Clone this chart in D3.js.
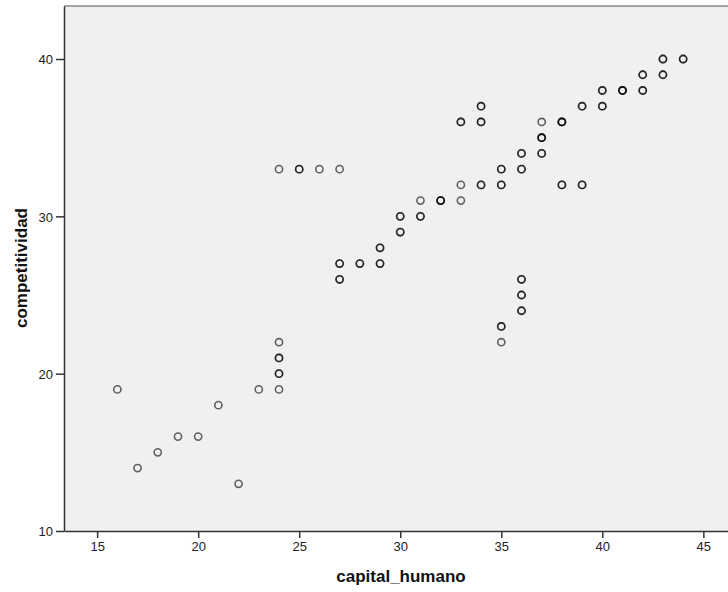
<!DOCTYPE html>
<html>
<head>
<meta charset="utf-8">
<script src="https://cdn.jsdelivr.net/npm/d3@7"></script>
<style>
  html, body { margin: 0; padding: 0; background: #fff; }
  svg { display: block; font-family: "Liberation Sans", Arial, sans-serif; }
</style>
</head>
<body>
<div id="svgContainer"></div>
<script>
// Data (overlap = how many cases share the point)
const capital_humano = [16, 17, 18, 19, 20, 21, 22, 23, 24, 24, 24, 24,
  24, 25, 26, 27, 27, 27, 28, 29, 29, 30, 30, 31, 31, 32, 33, 33, 33,
  34, 34, 34, 35, 35, 36, 36, 37, 37, 37, 38, 38, 39, 39, 40, 40, 41,
  42, 42, 43, 43, 44, 35, 35, 36, 36, 36];
const competitividad = [19, 14, 15, 16, 16, 18, 13, 19, 19, 20, 21, 22,
  33, 33, 33, 33, 27, 26, 27, 27, 28, 29, 30, 30, 31, 31, 31, 32, 36,
  36, 37, 32, 32, 33, 33, 34, 34, 35, 36, 36, 32, 32, 37, 37, 38, 38,
  38, 39, 39, 40, 40, 23, 22, 26, 25, 24];
const overlap = [1, 1, 1, 1, 1, 1, 1, 1, 1, 2, 2, 1,
  1, 2, 1, 1, 2, 2, 2, 2, 2, 2, 2, 2, 1, 3, 1, 1, 2,
  2, 2, 2, 2, 2, 2, 2, 2, 3, 1, 3, 2, 2, 2, 2, 2, 3,
  2, 2, 2, 2, 2, 2, 1, 2, 2, 2];
const xTicks = [15, 20, 25, 30, 35, 40, 45];
const yTicks = [10, 20, 30, 40];

const width = 728;
const height = 592;
const plot = { left: 64, top: 6, right: 728, bottom: 531 };

const svg = d3.select("#svgContainer").append("svg")
  .attr("width", width)
  .attr("height", height);

const x = d3.scaleLinear().domain([13.36, 46.22]).range([plot.left, plot.right]);
const y = d3.scaleLinear().domain([10, 43.37]).range([plot.bottom, plot.top]);

// Plot background
svg.append("rect")
  .attr("x", plot.left)
  .attr("y", plot.top)
  .attr("width", plot.right - plot.left)
  .attr("height", plot.bottom - plot.top)
  .attr("fill", "#f0f0f0");

// Top border
svg.append("line")
  .attr("x1", plot.left).attr("x2", plot.right)
  .attr("y1", plot.top).attr("y2", plot.top)
  .attr("stroke", "#8a8a8a")
  .attr("stroke-width", 1.5);

// Points, one circle per case so overlaps look darker
const cases = [];
for (let i = 0; i < capital_humano.length; i++) {
  for (let k = 0; k < overlap[i]; k++) {
    cases.push({ x: capital_humano[i], y: competitividad[i] });
  }
}
svg.append("g")
  .selectAll("circle")
  .data(cases)
  .join("circle")
  .attr("cx", d => x(d.x))
  .attr("cy", d => y(d.y))
  .attr("r", 3.6)
  .attr("fill", "none")
  .attr("stroke", "#000")
  .attr("stroke-width", 1.6)
  .attr("stroke-opacity", 0.6);

// Axes
const xAxis = svg.append("g")
  .attr("transform", `translate(0, ${plot.bottom})`)
  .call(d3.axisBottom(x).tickValues(xTicks).tickSize(7).tickSizeOuter(0).tickPadding(4));
const yAxis = svg.append("g")
  .attr("transform", `translate(${plot.left}, 0)`)
  .call(d3.axisLeft(y).tickValues(yTicks).tickSize(8).tickSizeOuter(0).tickPadding(3));

[xAxis, yAxis].forEach(g => {
  g.select(".domain").attr("stroke", "#333").attr("stroke-width", 1.5);
  g.selectAll(".tick line").attr("stroke", "#333").attr("stroke-width", 1.5);
  g.selectAll(".tick text")
    .attr("fill", "#222")
    .attr("font-size", "13px")
    .attr("font-family", "\"Liberation Sans\", Arial, sans-serif");
});
yAxis.selectAll(".tick text").attr("dy", "0.36em");

// Axis titles
svg.append("text")
  .attr("x", 401)
  .attr("y", 582)
  .attr("text-anchor", "middle")
  .attr("font-size", "17px")
  .attr("font-weight", "bold")
  .attr("fill", "#111")
  .text("capital_humano");

svg.append("text")
  .attr("transform", "translate(27, 268) rotate(-90)")
  .attr("text-anchor", "middle")
  .attr("font-size", "17px")
  .attr("font-weight", "bold")
  .attr("fill", "#111")
  .text("competitividad");
</script>
</body>
</html>
